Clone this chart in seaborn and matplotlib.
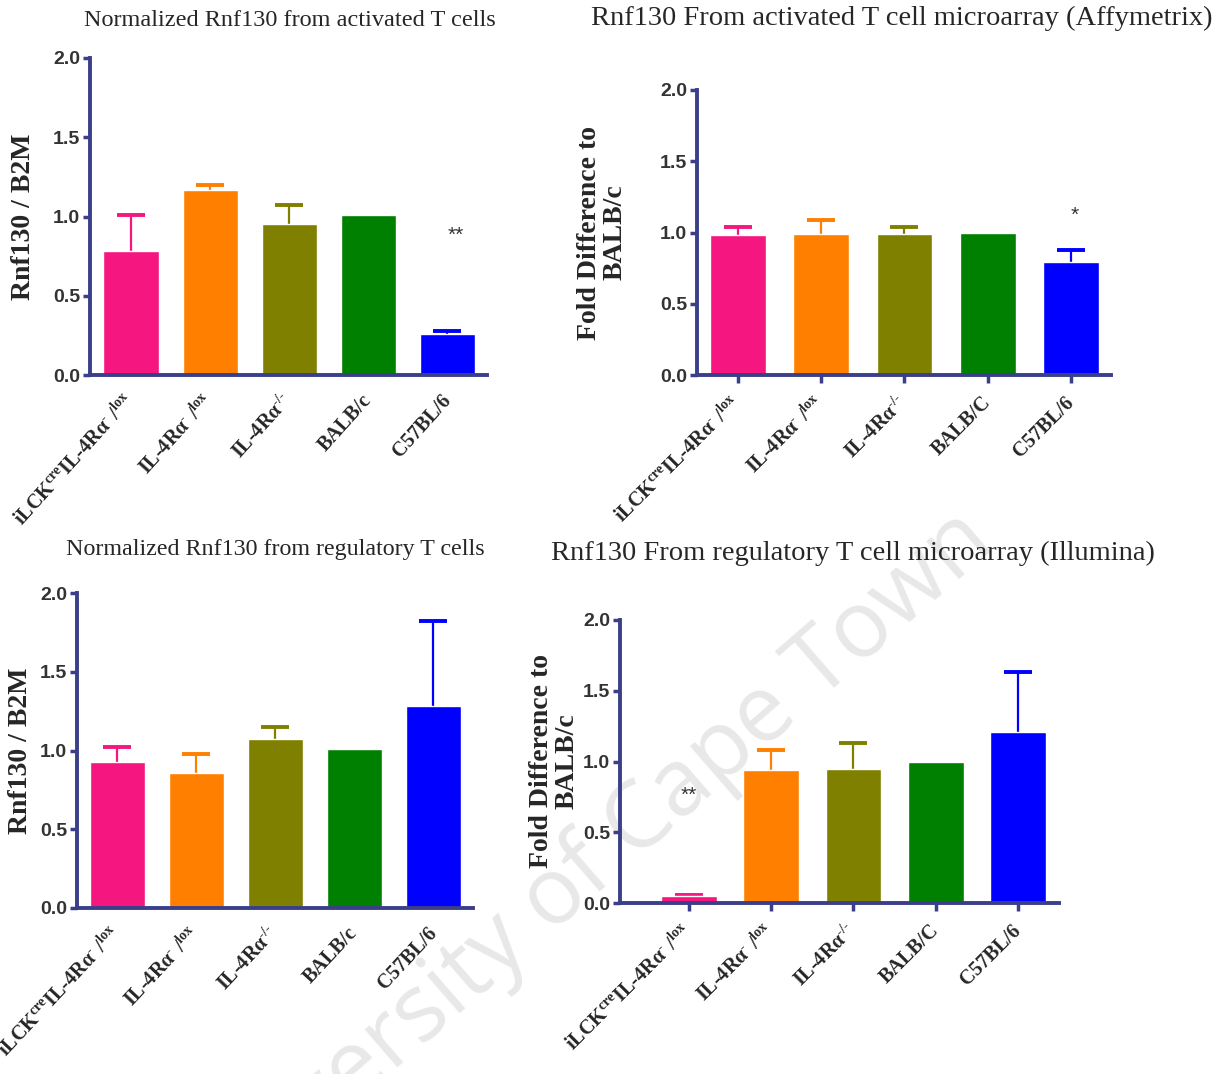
import pandas as pd
import matplotlib
matplotlib.use("Agg")
import matplotlib.pyplot as plt
import seaborn as sns

sns.set_style("white")
plt.rcParams['font.family'] = ['Liberation Serif', 'DejaVu Serif']
plt.rcParams['mathtext.fontset'] = 'custom'
plt.rcParams['mathtext.rm'] = 'Liberation Serif:bold'
plt.rcParams['mathtext.it'] = 'Liberation Serif:bold'
plt.rcParams['mathtext.bf'] = 'Liberation Serif:bold'

# --- data ---
groups = ["g1", "g2", "g3", "g4", "g5"]
labels_c = [r"iLCK$^{cre}$IL-4Rα$^{\text{-}}$ /$^{lox}$", r"IL-4Rα$^{\text{-}}$ /$^{lox}$",
            r"IL-4Rα$^{\text{-/-}}$", "BALB/c", "C57BL/6"]
labels_C = [r"iLCK$^{cre}$IL-4Rα$^{\text{-}}$ /$^{lox}$", r"IL-4Rα$^{\text{-}}$ /$^{lox}$",
            r"IL-4Rα$^{\text{-/-}}$", "BALB/C", "C57BL/6"]
colors = ["#f5167f", "#ff8000", "#808000", "#008000", "#0000ff"]

act_qpcr = [0.78, 1.17, 0.95, 1.01, 0.26]
act_qpcr_err = [0.23, 0.03, 0.12, 0.0, 0.02]
act_affy = [0.98, 0.99, 0.99, 1.00, 0.79]
act_affy_err = [0.06, 0.10, 0.05, 0.0, 0.09]
treg_qpcr = [0.93, 0.86, 1.07, 1.01, 1.28]
treg_qpcr_err = [0.09, 0.12, 0.08, 0.0, 0.54]
treg_illu = [0.05, 0.94, 0.95, 1.00, 1.21]
treg_illu_err = [0.01, 0.14, 0.18, 0.0, 0.42]

axis_col = "#3b3f8a"
W, H = 1228, 1074

fig = plt.figure(figsize=(W / 100, H / 100), dpi=100)

# watermark behind everything
fig.text(585 / W, 1 - 872 / H, "University of Cape Town", family="Open Sans",
         fontsize=67, color="#e8e8e8", rotation=41, ha="center", va="center",
         rotation_mode="anchor", zorder=-5)


def px_axes(left, right, top, bottom):
    return fig.add_axes([left / W, 1 - bottom / H, (right - left) / W, (bottom - top) / H])


panels = [
    dict(box=(90, 487, 58, 375), vals=act_qpcr, err=act_qpcr_err, labels=labels_c,
         xlim=(-0.52, 4.5), width=0.70, xticks=False, rot=48,
         ylabel="Rnf130 / B2M", ylx=-0.137,
         title="Normalized Rnf130 from activated T cells", tpos=(290, 20), tsize=17.5,
         stars=[(4.1, 0.88, "**")]),
    dict(box=(697, 1111, 90, 375), vals=act_affy, err=act_affy_err, labels=labels_C,
         xlim=(-0.49, 4.48), width=0.67, xticks=True, rot=45,
         ylabel="Fold Difference to\nBALB/c", ylx=-0.167,
         title="Rnf130 From activated T cell microarray (Affymetrix)", tpos=(902, 18), tsize=20.5,
         stars=[(4.04, 1.12, "*")]),
    dict(box=(77, 473, 593, 908), vals=treg_qpcr, err=treg_qpcr_err, labels=labels_c,
         xlim=(-0.51, 4.5), width=0.70, xticks=False, rot=47,
         ylabel="Rnf130 / B2M", ylx=-0.112,
         title="Normalized Rnf130 from regulatory T cells", tpos=(275, 549), tsize=17.3,
         stars=[]),
    dict(box=(620, 1059, 620, 903), vals=treg_illu, err=treg_illu_err, labels=labels_C,
         xlim=(-0.84, 4.5), width=0.68, xticks=True, rot=45,
         ylabel="Fold Difference to\nBALB/c", ylx=-0.091,
         title="Rnf130 From regulatory T cell microarray (Illumina)", tpos=(853, 553), tsize=20.5,
         stars=[(0.0, 0.76, "**")]),
]

for p in panels:
    ax = px_axes(*p["box"])
    ax.set_facecolor("none")
    df = pd.DataFrame({"group": groups, "value": p["vals"]})
    sns.barplot(data=df, x="group", y="value", hue="group", palette=colors,
                order=groups, width=p["width"], saturation=1, legend=False, ax=ax, zorder=2)
    for i, (v, e) in enumerate(zip(p["vals"], p["err"])):
        if e > 0:
            _, caps, _ = ax.errorbar(i, v, yerr=[[0], [e]], color=colors[i], capsize=10,
                                     elinewidth=1.6, capthick=2.8, zorder=1)
            caps[0].set_visible(False)  # upper error only
    ax.set_xlim(*p["xlim"])
    ax.set_ylim(0, 2.0)
    ax.set_yticks([0, 0.5, 1.0, 1.5, 2.0])
    ax.set_yticklabels(["0.0", "0.5", "1.0", "1.5", "2.0"], family="Liberation Sans",
                       fontweight="bold", fontsize=14, color="#333333")
    ax.set_xticks(range(5))
    ax.set_xticklabels(p["labels"], rotation=p["rot"], ha="right", va="center",
                       rotation_mode="anchor", fontweight="bold", fontsize=14.5)
    ax.tick_params(axis="y", direction="out", length=5, width=2.5, color=axis_col, pad=2, left=True)
    if p["xticks"]:
        ax.tick_params(axis="x", direction="out", length=6, width=2.5, color=axis_col, pad=12, bottom=True)
    else:
        ax.tick_params(axis="x", length=0, pad=16)
    for s in ["top", "right"]:
        ax.spines[s].set_visible(False)
    for s in ["left", "bottom"]:
        ax.spines[s].set_color(axis_col)
        ax.spines[s].set_linewidth(2.8)
    ax.set_xlabel("")
    ax.set_ylabel(p["ylabel"], fontweight="bold", fontsize=20, linespacing=1.05)
    ax.yaxis.set_label_coords(p["ylx"], 0.5)
    for x, y, s in p["stars"]:
        ax.text(x, y, s, ha="center", va="center", fontsize=15, color="#333333",
                family="Liberation Sans")
    fig.text(p["tpos"][0] / W, 1 - p["tpos"][1] / H, p["title"], ha="center",
             va="center", fontsize=p["tsize"])

fig.savefig("out.png", dpi=100)
